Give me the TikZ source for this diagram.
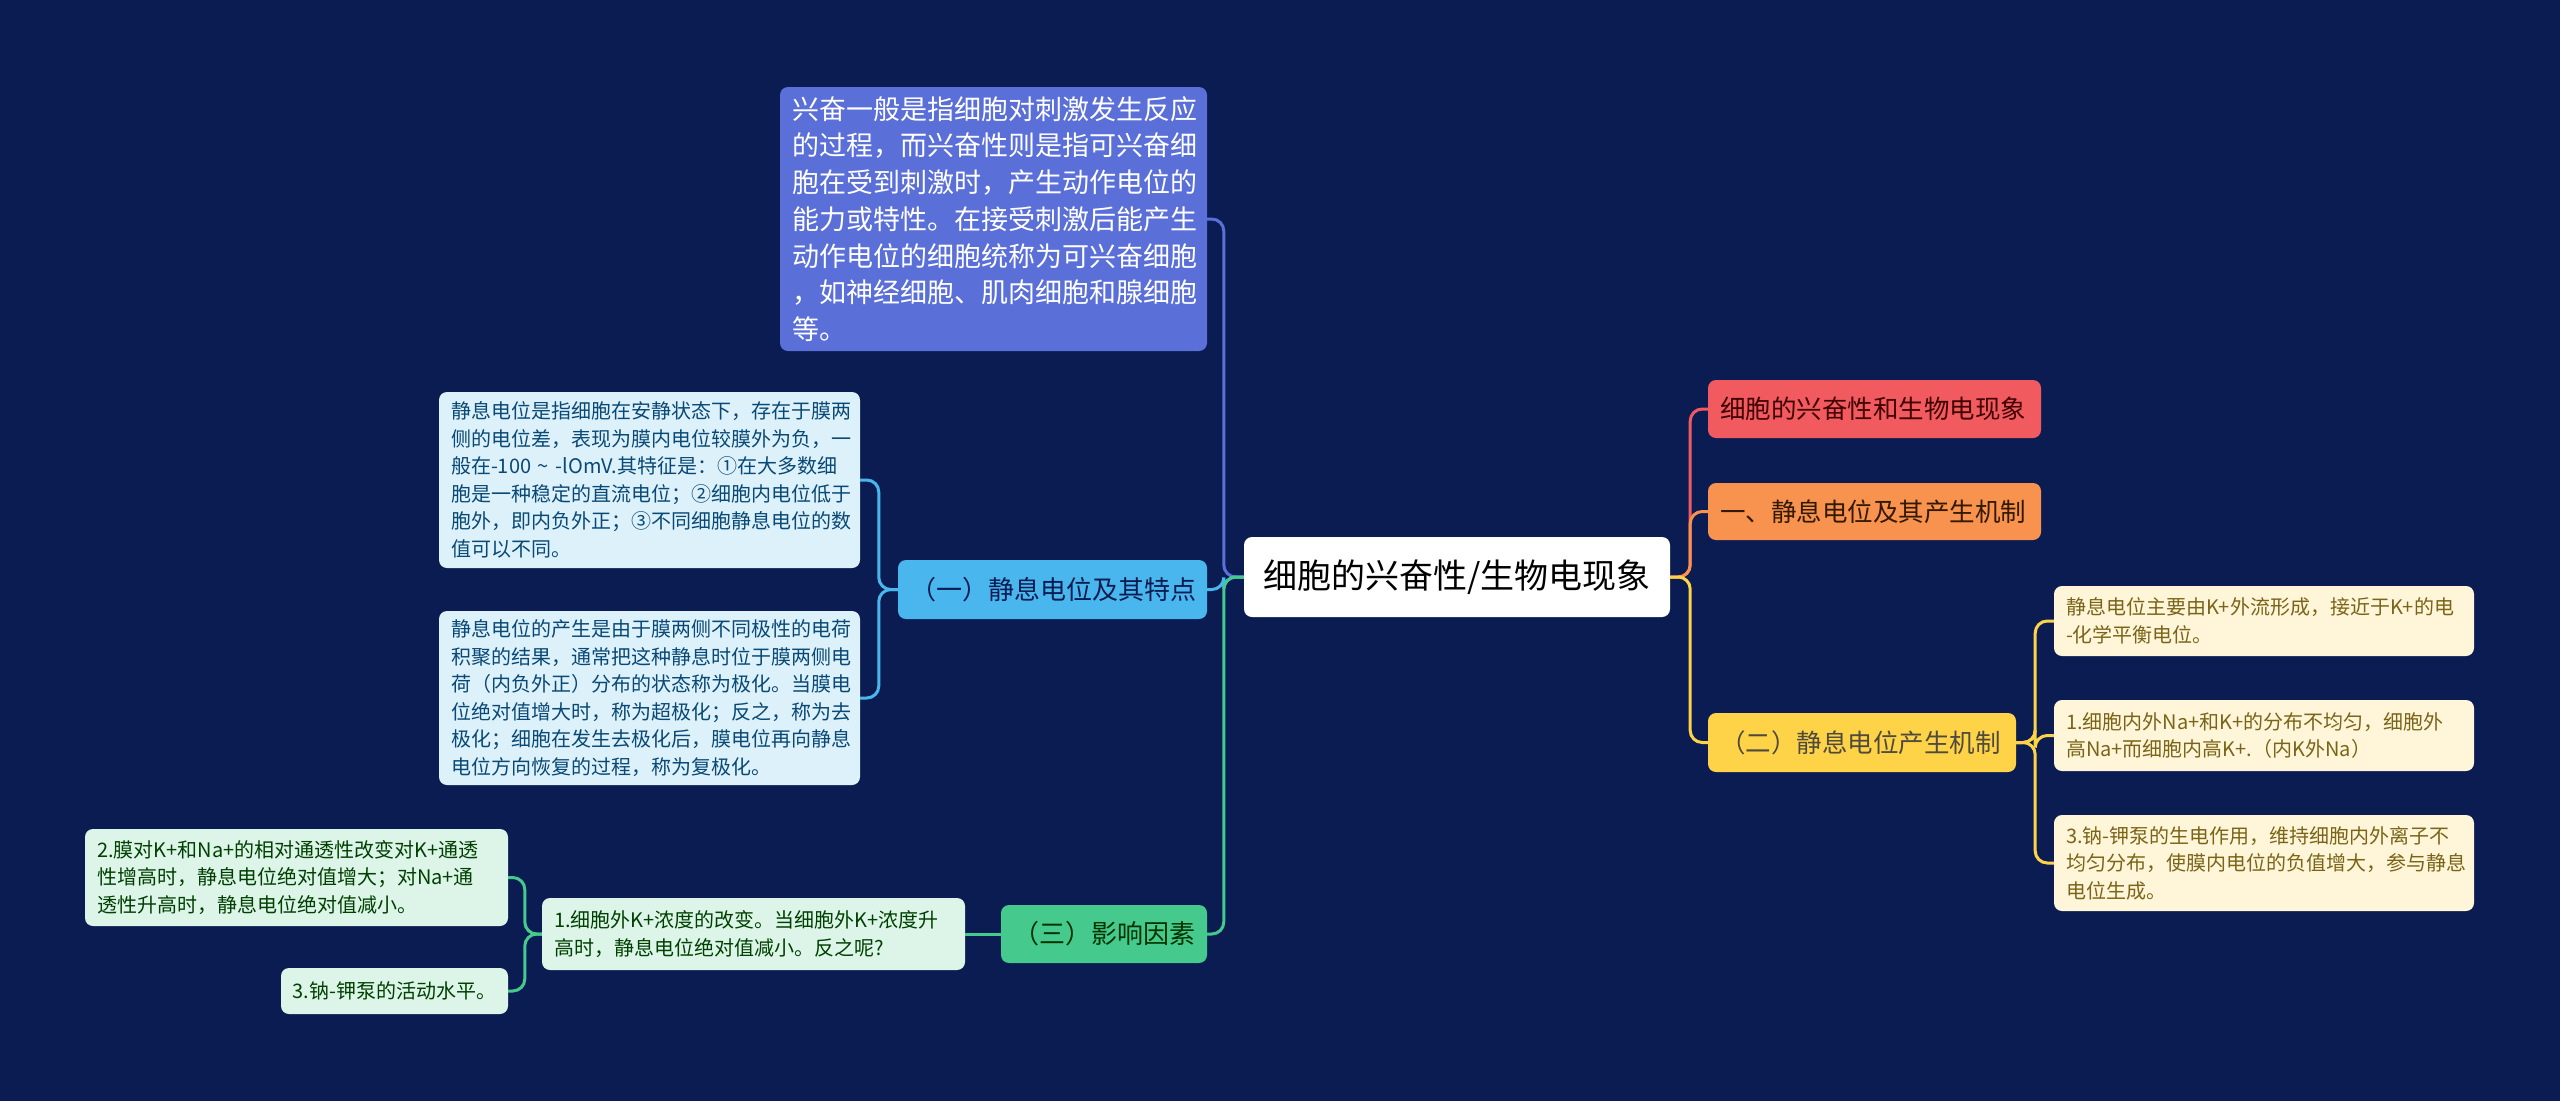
\documentclass[tikz,border=0pt]{standalone}
\usepackage{fontspec}
\setmainfont{Noto Sans CJK SC}
\usepackage{xcolor}
\usepackage{tikz}
\usetikzlibrary{positioning}

\definecolor{bgnavy}{HTML}{0B1C52}
\definecolor{redfill}{HTML}{F15B5F}
\definecolor{orangefill}{HTML}{F7924F}
\definecolor{yellowfill}{HTML}{FFD347}
\definecolor{creamfill}{HTML}{FFF6D9}
\definecolor{creamtext}{HTML}{7A6418}
\definecolor{bluefill}{HTML}{5A6FD8}
\definecolor{skyfill}{HTML}{4AB6EE}
\definecolor{paleblue}{HTML}{DDF1FB}
\definecolor{greenfill}{HTML}{45C98C}
\definecolor{palegreen}{HTML}{DDF5E9}

\tikzstyle{box} = [
    rectangle,
    rounded corners=8pt,
    inner xsep=12pt,
    inner ysep=0pt,
    align=left
]
\tikzstyle{leaf} = [
    box,
    font={\fontsize{20}{27.5}\selectfont}
]
\tikzstyle{link} = [
    line width=3pt,
    rounded corners=12pt
]

\begin{document}
\begin{tikzpicture}[x=1pt,y=-1pt]

\useasboundingbox[fill=bgnavy] (0,0) rectangle (2560,1101);

% centre
\node[box, fill=white, minimum width=426pt, minimum height=80pt, align=center,
  font={\fontsize{34}{40}\selectfont}] (root) at (1457,577)
{细胞的兴奋性/生物电现象};

% right side
\node[box, fill=redfill, text=black!75!red, minimum width=333pt, minimum height=58pt,
  text width=309pt, font={\fontsize{25.5}{30}\selectfont}] (title) at (1874.5,409)
{细胞的兴奋性和生物电现象};

\node[box, fill=orangefill, text=black!80!orange, minimum width=333pt, minimum height=57pt,
  text width=309pt, font={\fontsize{25.5}{30}\selectfont}] (part1) at (1874.5,511.5)
{一、静息电位及其产生机制};

\node[box, fill=yellowfill, text=black!80!yellow, minimum width=308pt, minimum height=59pt,
  text width=284pt, font={\fontsize{25.5}{30}\selectfont}] (mech) at (1862,742.5)
{（二）静息电位产生机制};

\node[leaf, fill=creamfill, text=creamtext, minimum width=420pt, minimum height=70pt,
  text width=396pt] (mechA) at (2264,621)
{静息电位主要由K+外流形成，接近于K+的电\\-化学平衡电位。};

\node[leaf, fill=creamfill, text=creamtext, minimum width=420pt, minimum height=71pt,
  text width=396pt] (mechB) at (2264,735.5)
{1.细胞内外Na+和K+的分布不均匀，细胞外\\高Na+而细胞内高K+.（内K外Na）};

\node[leaf, fill=creamfill, text=creamtext, minimum width=420pt, minimum height=96pt,
  text width=396pt] (mechC) at (2264,863)
{3.钠-钾泵的生电作用，维持细胞内外离子不\\均匀分布，使膜内电位的负值增大，参与静息\\电位生成。};

% left side
\node[box, fill=bluefill, text=white, minimum width=427pt, minimum height=264pt,
  text width=403pt, font={\fontsize{27}{36.7}\selectfont}] (intro) at (993.5,219)
{兴奋一般是指细胞对刺激发生反应\\的过程，而兴奋性则是指可兴奋细\\胞在受到刺激时，产生动作电位的\\能力或特性。在接受刺激后能产生\\动作电位的细胞统称为可兴奋细胞\\，如神经细胞、肌肉细胞和腺细胞\\等。};

\node[box, fill=skyfill, text=bgnavy, minimum width=309pt, minimum height=59pt,
  text width=285pt, font={\fontsize{26}{30}\selectfont}] (feat) at (1052.5,589.5)
{（一）静息电位及其特点};

\node[leaf, fill=paleblue, text=bgnavy!80!cyan, minimum width=421pt, minimum height=176pt,
  text width=397pt] (featA) at (649.5,480)
{静息电位是指细胞在安静状态下，存在于膜两\\侧的电位差，表现为膜内电位较膜外为负，一\\般在-100 \textasciitilde{} -lOmV.其特征是：①在大多数细\\胞是一种稳定的直流电位；②细胞内电位低于\\胞外，即内负外正；③不同细胞静息电位的数\\值可以不同。};

\node[leaf, fill=paleblue, text=bgnavy!80!cyan, minimum width=421pt, minimum height=174pt,
  text width=397pt] (featB) at (649.5,698)
{静息电位的产生是由于膜两侧不同极性的电荷\\积聚的结果，通常把这种静息时位于膜两侧电\\荷（内负外正）分布的状态称为极化。当膜电\\位绝对值增大时，称为超极化；反之，称为去\\极化；细胞在发生去极化后，膜电位再向静息\\电位方向恢复的过程，称为复极化。};

\node[box, fill=greenfill, text=black!80!green, minimum width=206pt, minimum height=58pt,
  text width=182pt, font={\fontsize{26}{30}\selectfont}] (factor) at (1104,934)
{（三）影响因素};

\node[leaf, fill=palegreen, text=black!75!green, minimum width=423pt, minimum height=72pt,
  text width=399pt] (factA) at (753.5,934)
{1.细胞外K+浓度的改变。当细胞外K+浓度升\\高时，静息电位绝对值减小。反之呢?};

\node[leaf, fill=palegreen, text=black!75!green, minimum width=423pt, minimum height=97pt,
  text width=399pt] (factB) at (296.5,877.5)
{2.膜对K+和Na+的相对通透性改变对K+通透\\性增高时，静息电位绝对值增大；对Na+通\\透性升高时，静息电位绝对值减小。};

\node[leaf, fill=palegreen, text=black!75!green, minimum width=227pt, minimum height=46pt,
  align=center, inner xsep=6pt] (factC) at (394.5,991)
{3.钠-钾泵的活动水平。};

% connectors
\draw[link, redfill] (root.east) -- ++(20,0) |- (title.west);
\draw[link, orangefill] (root.east) -- ++(20,0) |- (part1.west);
\draw[link, yellowfill] (root.east) -- ++(20,0) |- (mech.west);

\draw[link, yellowfill] (mech.east) -- ++(19,0) |- (mechA.west);
\draw[link, yellowfill] (mech.east) -- ++(19,0) |- (mechB.west);
\draw[link, yellowfill] (mech.east) -- ++(19,0) |- (mechC.west);

\draw[link, bluefill] (root.west) -- ++(-20,0) |- (intro.east);
\draw[link, skyfill] (root.west) -- ++(-20,0) |- (feat.east);
\draw[link, greenfill] (root.west) -- ++(-20,0) |- (factor.east);

\draw[link, skyfill] (feat.west) -- ++(-19,0) |- (featA.east);
\draw[link, skyfill] (feat.west) -- ++(-19,0) |- (featB.east);

\draw[link, greenfill] (factor.west) -- (factA.east);

\draw[link, greenfill] (factA.west) -- ++(-17,0) |- (factB.east);
\draw[link, greenfill] (factA.west) -- ++(-17,0) |- (factC.east);

\end{tikzpicture}
\end{document}
